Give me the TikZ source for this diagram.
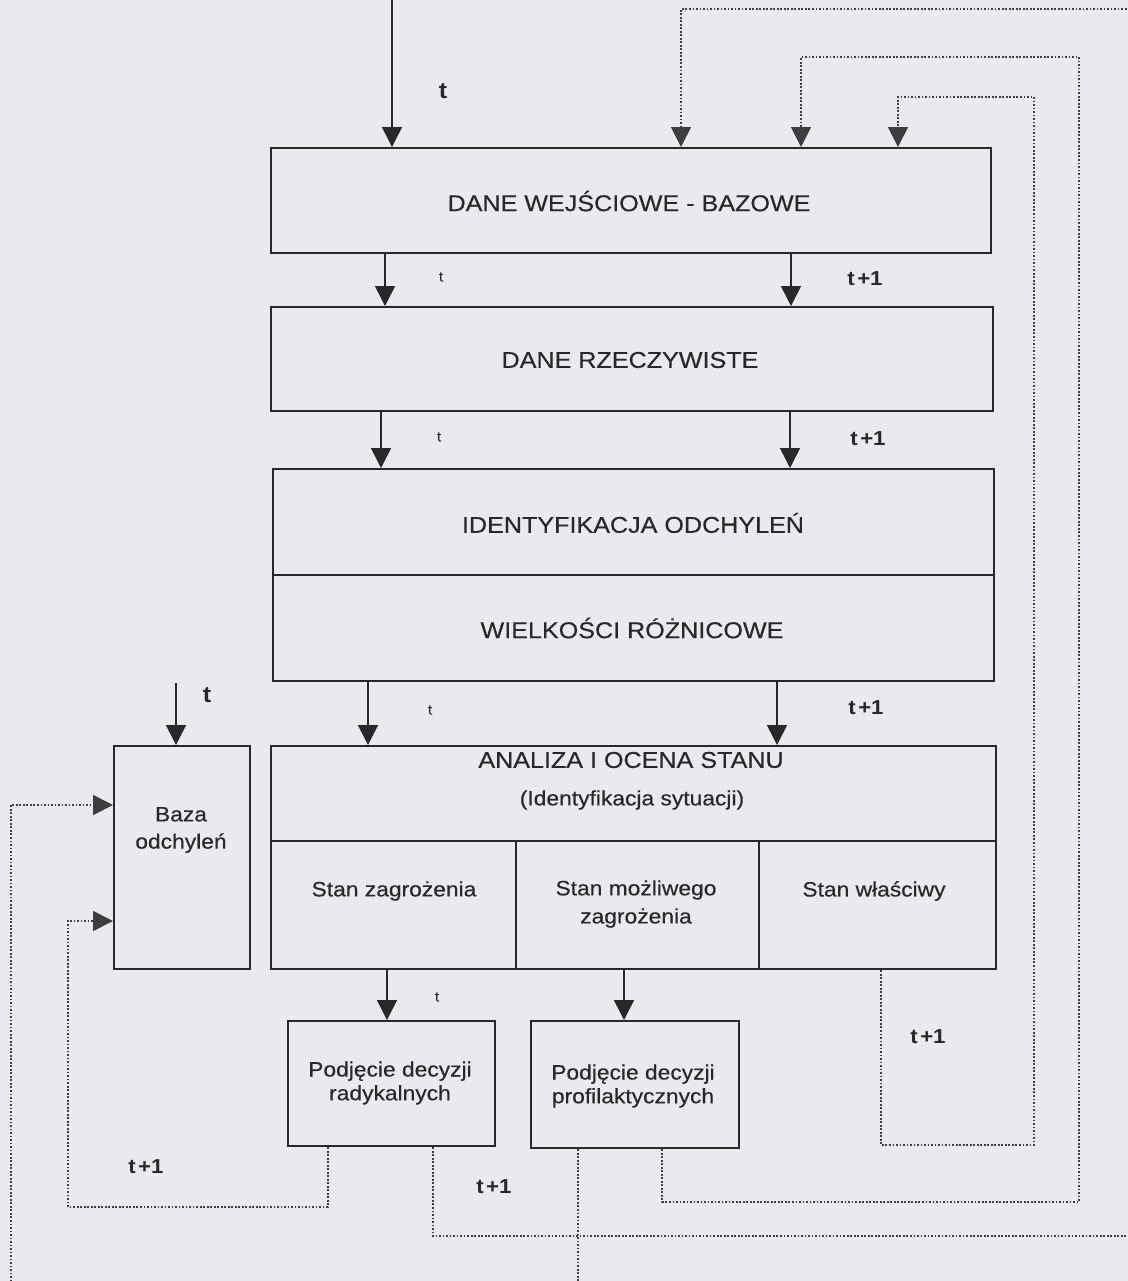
\documentclass[tikz,border=0pt]{standalone}
\usepackage{fontspec}
\setmainfont[FakeStretch=1.1, UprightFeatures={FakeBold=0.4}]{Liberation Sans}
\usetikzlibrary{arrows.meta}
\definecolor{paper}{RGB}{234,234,238}
\definecolor{ink}{RGB}{40,40,40}
\tikzset{
  x=0.02cm, y=-0.02cm,
  box/.style={draw=ink, line width=1.3pt, anchor=north west, inner sep=0pt},
  title/.style={text=ink, font=\fontsize{13}{15}\selectfont, inner sep=0pt},
  txt/.style={text=ink, font=\fontsize{11.8}{15}\selectfont, align=center, inner sep=0pt},
  tbig/.style={text=ink, font=\fontsize{13}{15}\selectfont\bfseries, inner sep=0pt},
  tsmall/.style={text=ink, font=\fontsize{8}{10}\selectfont, inner sep=0pt},
  tnext/.style={text=ink, font=\fontsize{11.5}{14}\selectfont\bfseries, inner sep=0pt},
  tip/.style={-{Triangle[length=0.4cm,width=0.4cm]}},
  arr/.style={draw=ink, line width=0.9pt, tip},
  fb/.style={draw=ink!90, line width=1pt, densely dotted, tip},
  fbn/.style={draw=ink!90, line width=1pt, densely dotted},
}
\begin{document}
\begin{tikzpicture}
\useasboundingbox (0,0) rectangle (1128,1281);
\fill[paper] (0,0) rectangle (1128,1281);

% blocks of the scheme
\node[box, minimum width=14.4cm,  minimum height=2.1cm]  (b1) at (270,147) {};
\node[box, minimum width=14.44cm, minimum height=2.08cm] (b2) at (270,306) {};
\node[box, minimum width=14.42cm, minimum height=2.12cm] (b3) at (272,468) {};
\node[box, minimum width=14.42cm, minimum height=2.12cm] (b4) at (272,574) {};
\node[box, minimum width=14.5cm,  minimum height=1.9cm]  (an) at (270,745) {};
\node[box, minimum width=4.9cm,   minimum height=2.56cm] (s1) at (270,840) {};
\node[box, minimum width=4.86cm,  minimum height=2.56cm] (s2) at (515,840) {};
\node[box, minimum width=4.74cm,  minimum height=2.56cm] (s3) at (758,840) {};
\node[box, minimum width=2.72cm,  minimum height=4.46cm] (bz) at (113,745) {};
\node[box, minimum width=4.14cm,  minimum height=2.5cm]  (rd) at (287,1020) {};
\node[box, minimum width=4.16cm,  minimum height=2.54cm] (pf) at (530,1020) {};

% block texts
\node[title] (b1t) at (629,201) {DANE WEJŚCIOWE - BAZOWE};
\node[title] (b2t) at (630,360) {DANE RZECZYWISTE};
\node[title] (b3t) at (633,523) {IDENTYFIKACJA ODCHYLEŃ};
\node[title] (b4t) at (632,628) {WIELKOŚCI RÓŻNICOWE};
\node[title] (ant) at (631,760) {ANALIZA I OCENA STANU};
\node[txt]   (ans) at (632,800) {(Identyfikacja sytuacji)};
\node[txt, font=\fontsize{11.8}{15.5}\selectfont] (bzt) at (181,830) {Baza\\odchyleń};
\node[txt]   (s1t) at (394,891) {Stan zagrożenia};
\node[txt, font=\fontsize{11.8}{16}\selectfont] (s2t) at (636,904) {Stan możliwego\\zagrożenia};
\node[txt]   (s3t) at (874,891) {Stan właściwy};
\node[txt, font=\fontsize{11.8}{13.5}\selectfont] (rdt) at (390,1083) {Podjęcie decyzji\\radykalnych};
\node[txt, font=\fontsize{11.8}{13.5}\selectfont] (pft) at (633,1086) {Podjęcie decyzji\\profilaktycznych};

% columns and levels used by the connectors
\coordinate (cIn)  at (392,0);
\coordinate (c385) at (385,0);
\coordinate (c791) at (791,0);
\coordinate (c381) at (381,0);
\coordinate (c790) at (790,0);
\coordinate (c368) at (368,0);
\coordinate (c777) at (777,0);
\coordinate (c387) at (387,0);
\coordinate (c624) at (624,0);
\coordinate (bzIn) at (176,683);
\coordinate (c681) at (681,0);
\coordinate (c801) at (801,0);
\coordinate (c898) at (898,0);
\coordinate (c662) at (662,0);
\coordinate (c881) at (881,0);
\coordinate (c433) at (433,0);
\coordinate (c328) at (328,0);
\coordinate (c578) at (578,0);
\coordinate (topR) at (1130,9);
\coordinate (rB)   at (1079,57);
\coordinate (bB)   at (1079,1202);
\coordinate (rC)   at (1034,97);
\coordinate (bC)   at (1034,1145);
\coordinate (botR) at (1130,1236);
\coordinate (lE)   at (68,1207);
\coordinate (yE)   at (0,921);
\coordinate (botF) at (578,1285);
\coordinate (botG) at (11,1285);
\coordinate (yG)   at (0,805);

% main flow
\draw[arr] (cIn) -- (b1.north -| cIn);
\draw[arr] (b1.south -| c385) -- (b2.north -| c385);
\draw[arr] (b1.south -| c791) -- (b2.north -| c791);
\draw[arr] (b2.south -| c381) -- (b3.north -| c381);
\draw[arr] (b2.south -| c790) -- (b3.north -| c790);
\draw[arr] (b4.south -| c368) -- (an.north -| c368);
\draw[arr] (b4.south -| c777) -- (an.north -| c777);
\draw[arr] (bzIn) -- (bz.north -| bzIn);
\draw[arr] (s1.south -| c387) -- (rd.north -| c387);
\draw[arr] (s2.south -| c624) -- (pf.north -| c624);

% feedback loops
\draw[fb] (topR) -| (b1.north -| c681);
\draw[fb] (pf.south -| c662) |- (bB) -- (rB) -| (b1.north -| c801);
\draw[fb] (s3.south -| c881) |- (bC) -- (rC) -| (b1.north -| c898);
\draw[fbn] (rd.south -| c433) |- (botR);
\draw[fb] (rd.south -| c328) |- (lE) |- (bz.west |- yE);
\draw[fbn] (pf.south -| botF) -- (botF);
\draw[fb] (botG) |- (bz.west |- yG);

% time labels
\node[tbig]   (l0) at (443,91)  {t};
\node[tsmall] (l1) at (441,277) {t};
\node[tnext]  (l2) at (865,279) {t\kern.12em+1};
\node[tsmall] (l3) at (439,437) {t};
\node[tnext]  (l4) at (868,439) {t\kern.12em+1};
\node[tsmall] (l5) at (430,710) {t};
\node[tnext]  (l6) at (866,708) {t\kern.12em+1};
\node[tbig]   (l7) at (207,695) {t};
\node[tsmall] (l8) at (437,997) {t};
\node[tnext]  (l9) at (928,1037) {t\kern.12em+1};
\node[tnext]  (l10) at (146,1167) {t\kern.12em+1};
\node[tnext]  (l11) at (494,1187) {t\kern.12em+1};
\end{tikzpicture}
\end{document}
